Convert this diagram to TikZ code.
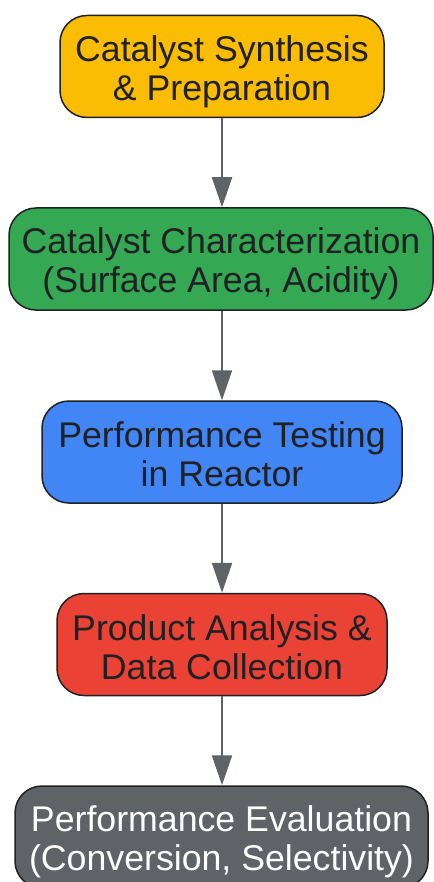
\documentclass[tikz,border=0pt]{standalone}
\usepackage{fontspec}
\setmainfont{Liberation Sans}
\usetikzlibrary{arrows.meta}
\definecolor{cyellow}{HTML}{FBBC04}
\definecolor{cgreen}{HTML}{34A853}
\definecolor{cblue}{HTML}{4285F4}
\definecolor{cred}{HTML}{EA4335}
\definecolor{cgray}{HTML}{5F6368}
\definecolor{cdark}{HTML}{202124}
\newcommand\Ltop{\rule{0pt}{36pt}}
\newcommand\Lbot{\rule[-6pt]{0pt}{0pt}}
\tikzset{
  stepbox/.style={draw=cdark, line width=1.5pt, rounded corners=27pt,
    align=center, inner sep=0pt, minimum height=102pt, text=cdark,
    font=\fontsize{35.7}{39}\selectfont},
  flow/.style={draw=cgray, line width=2pt, -{Triangle[width=20pt,length=30pt]}}
}
\begin{document}
\begin{tikzpicture}[x=1pt,y=-1pt]
\useasboundingbox (0,0) rectangle (433,882);
\node[stepbox, fill=cyellow, minimum width=324pt] (n1) at (222,66.5) {\Ltop Catalyst Synthesis\\\& Preparation\Lbot};
\node[stepbox, fill=cgreen, minimum width=424pt] (n2) at (221,259) {\Ltop Catalyst Characterization\\(Surface Area, Acidity)\Lbot};
\node[stepbox, fill=cblue, minimum width=360pt] (n3) at (222,452) {\Ltop Performance Testing\\in Reactor\Lbot};
\node[stepbox, fill=cred, minimum width=330pt] (n4) at (222,644.5) {\Ltop Product Analysis \&\\Data Collection\Lbot};
\node[stepbox, fill=cgray, text=white, minimum width=413pt] (n5) at (221.5,837) {\Ltop Performance Evaluation\\(Conversion, Selectivity)\Lbot};
\draw[flow] (n1.south) -- (n1.south |- n2.north);
\draw[flow] (n2.south -| n1.south) -- (n1.south |- n3.north);
\draw[flow] (n3.south) -- (n4.north);
\draw[flow] (n4.south) -- (n4.south |- n5.north);
\end{tikzpicture}
\end{document}
